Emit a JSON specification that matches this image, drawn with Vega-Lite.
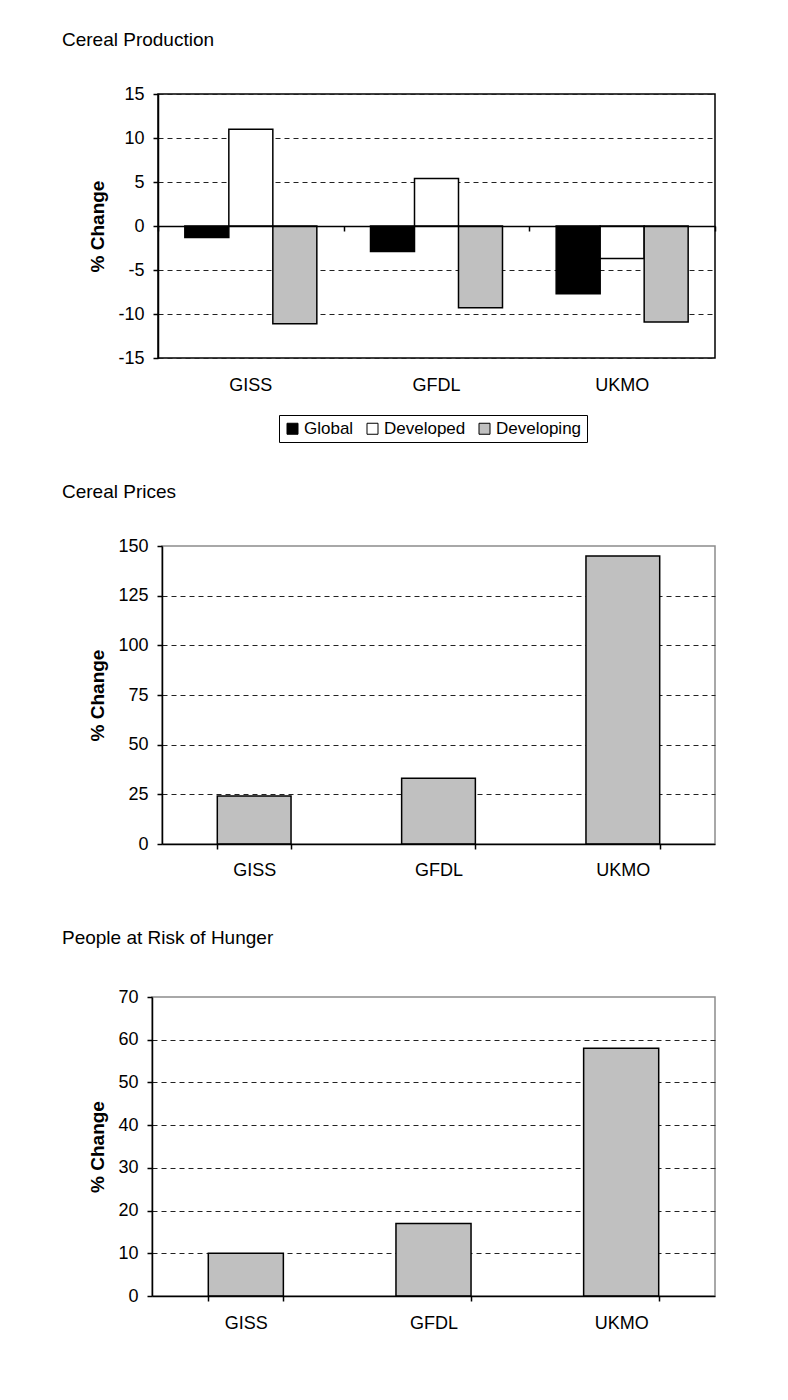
{
  "$schema": "https://vega.github.io/schema/vega-lite/v6.json",
  "padding": {"left": 54, "top": 30, "right": 0, "bottom": 0},
  "background": "white",
  "spacing": 36,
  "vconcat": [
    {"spacing": 0, "hconcat": [
    {"width": 1, "height": 1, "view": {"stroke": null}, "data": {"values": [{}]}, "mark": {"type": "point", "opacity": 0}, "encoding": {}},
    {
      "title": {"text": "Cereal Production", "anchor": "start", "frame": "bounds", "dx": -27, "offset": 35},
      "width": 557,
      "height": 264,
      "view": {"stroke": "black", "strokeWidth": 1.5},
      "data": {"values": [
        {"model": "GISS", "series": "Global", "value": -1.3},
        {"model": "GISS", "series": "Developed", "value": 11.0},
        {"model": "GISS", "series": "Developing", "value": -11.1},
        {"model": "GFDL", "series": "Global", "value": -2.9},
        {"model": "GFDL", "series": "Developed", "value": 5.4},
        {"model": "GFDL", "series": "Developing", "value": -9.3},
        {"model": "UKMO", "series": "Global", "value": -7.7},
        {"model": "UKMO", "series": "Developed", "value": -3.7},
        {"model": "UKMO", "series": "Developing", "value": -10.9}
      ]},
      "layer": [
        {
          "mark": {"type": "bar", "stroke": "black", "strokeWidth": 1.5},
          "encoding": {
            "x": {"field": "model", "type": "nominal", "sort": ["GISS", "GFDL", "UKMO"],
                  "scale": {"paddingInner": 0, "paddingOuter": 0},
                  "axis": {"title": null, "orient": "bottom", "ticks": false, "tickSize": 0, "domain": false, "labelPadding": 18, "labelAngle": 0, "minExtent": 87}},
            "xOffset": {"field": "series", "type": "nominal", "sort": ["Global", "Developed", "Developing"],
                        "scale": {"paddingInner": 0, "paddingOuter": 0.61}},
            "y": {"field": "value", "type": "quantitative",
                  "scale": {"domain": [-15, 15], "nice": false, "zero": false},
                  "axis": {"title": "% Change", "values": [-15, -10, -5, 0, 5, 10, 15], "grid": true,
                           "labelExpr": "datum.value < 0 ? '-' + abs(datum.value) : '' + datum.value"}},
            "color": {"field": "series", "type": "nominal", "sort": ["Global", "Developed", "Developing"],
                      "scale": {"domain": ["Global", "Developed", "Developing"], "range": ["#000000", "#ffffff", "#c0c0c0"]},
                      "legend": {"orient": "none", "legendX": 222, "legendY": 321, "direction": "horizontal", "title": null,
                                 "symbolType": "square", "symbolSize": 121, "symbolStrokeColor": "black", "symbolStrokeWidth": 1,
                                 "symbolOpacity": 1,
                                 "labelFontSize": 17, "labelColor": "black", "labelFont": "Liberation Sans",
                                 "strokeColor": "black", "padding": 5, "columnPadding": 10, "labelOffset": 3}}
          }
        },
        {
          "mark": {"type": "point", "opacity": 0},
          "encoding": {
            "x": {"field": "model", "type": "nominal", "sort": ["GISS", "GFDL", "UKMO"],
                  "axis": {"title": null, "orient": "bottom", "offset": -132, "labels": false, "tickBand": "extent", "tickSize": 5, "domain": true, "zindex": 1}},
            "y": {"datum": 0, "type": "quantitative"}
          }
        }
      ],
      "resolve": {"axis": {"x": "independent"}}
    }]},
    {"spacing": 0, "hconcat": [
    {"width": 1, "height": 1, "view": {"stroke": null}, "data": {"values": [{}]}, "mark": {"type": "point", "opacity": 0}, "encoding": {}},
    {
      "title": {"text": "Cereal Prices", "anchor": "start", "frame": "bounds", "dx": -27, "offset": 35},
      "width": 553,
      "height": 298,
      "view": {"stroke": "#8c8c8c", "strokeWidth": 1.5},
      "data": {"values": [
        {"model": "GISS", "value": 24.2},
        {"model": "GFDL", "value": 33.1},
        {"model": "UKMO", "value": 145}
      ]},
      "mark": {"type": "bar", "fill": "#c0c0c0", "stroke": "black", "strokeWidth": 1.5},
      "encoding": {
        "x": {"field": "model", "type": "nominal", "sort": ["GISS", "GFDL", "UKMO"],
              "scale": {"paddingInner": 0.6, "paddingOuter": 0.3},
              "axis": {"title": null, "labelAngle": 0, "tickBand": "extent", "tickSize": 5, "labelPadding": 12, "zindex": 1, "minExtent": 47}},
        "y": {"field": "value", "type": "quantitative", "scale": {"domain": [0, 150], "nice": false},
              "axis": {"title": "% Change", "values": [0, 25, 50, 75, 100, 125, 150], "grid": true,
                       "gridOpacity": {"condition": {"test": "datum.value == 150 || datum.value == 0", "value": 0}, "value": 1}}}
      }
    }]},
    {"spacing": 0, "hconcat": [
    {"width": 1, "height": 1, "view": {"stroke": null}, "data": {"values": [{}]}, "mark": {"type": "point", "opacity": 0}, "encoding": {}},
    {
      "title": {"text": "People at Risk of Hunger", "anchor": "start", "frame": "bounds", "dx": -27, "offset": 40},
      "width": 563,
      "height": 299,
      "view": {"stroke": "#8c8c8c", "strokeWidth": 1.5},
      "data": {"values": [
        {"model": "GISS", "value": 10},
        {"model": "GFDL", "value": 17},
        {"model": "UKMO", "value": 58}
      ]},
      "mark": {"type": "bar", "fill": "#c0c0c0", "stroke": "black", "strokeWidth": 1.5},
      "encoding": {
        "x": {"field": "model", "type": "nominal", "sort": ["GISS", "GFDL", "UKMO"],
              "scale": {"paddingInner": 0.6, "paddingOuter": 0.3},
              "axis": {"title": null, "labelAngle": 0, "tickBand": "extent", "tickSize": 5, "labelPadding": 13, "zindex": 1}},
        "y": {"field": "value", "type": "quantitative", "scale": {"domain": [0, 70], "nice": false},
              "axis": {"title": "% Change", "values": [0, 10, 20, 30, 40, 50, 60, 70], "grid": true,
                       "gridOpacity": {"condition": {"test": "datum.value == 70 || datum.value == 0", "value": 0}, "value": 1}}}
      }
    }]}
  ],
  "config": {
    "font": "Liberation Sans",
    "title": {"fontSize": 19, "fontWeight": "normal", "color": "black", "font": "Liberation Sans"},
    "axis": {
      "labelFont": "Liberation Sans", "labelFontSize": 18, "labelColor": "black",
      "titleFont": "Liberation Sans", "titleFontSize": 19, "titleFontWeight": "bold", "titleColor": "black",
      "domainColor": "black", "domainWidth": 1.5, "tickColor": "black", "tickWidth": 1.5,
      "gridColor": "#222222", "gridDash": [5, 4], "gridWidth": 1
    },
    "axisY": {"tickSize": 5, "labelPadding": 9, "titlePadding": 10},
    "axisX": {"grid": false}
  }
}
